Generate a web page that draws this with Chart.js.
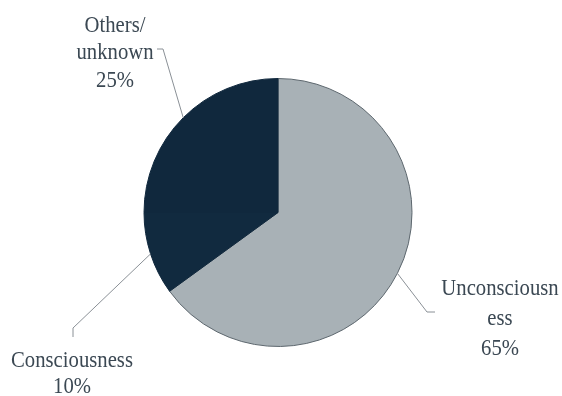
<!DOCTYPE html>
<html>
<head>
<meta charset="utf-8">
<script src="https://cdn.jsdelivr.net/npm/chart.js@4.4.1/dist/chart.umd.min.js"></script>
<style>
  html, body { margin: 0; padding: 0; background: #ffffff; }
  #wrap { width: 562px; height: 396px; position: relative; }
</style>
</head>
<body>
<div id="wrap"><canvas id="pie" width="562" height="396"></canvas></div>
<script>
// Share of cases by state of consciousness
const categories = ['Unconsciousness', 'Consciousness', 'Others/ unknown'];
const shares = [65, 10, 25];
// Wrapped label text shown beside each slice (percent appended from shares)
const labelText = [['Unconsciousn', 'ess'], ['Consciousness'], ['Others/', 'unknown']];

const sliceColors = ['#a8b1b6', '#112a3f', '#10283d'];

// Where each callout sits: text centre x, first baseline, line step, leader elbow and end
const callouts = [
  { x: 500, y: 295,  lh: 30,   elbow: [427, 312], end: [435, 312] },
  { x: 72,  y: 367,  lh: 26,   elbow: [73, 328],  end: [73, 337] },
  { x: 115, y: 31.5, lh: 27.5, elbow: [163, 49],  end: [157, 49] }
];

const calloutPlugin = {
  id: 'callouts',
  afterDatasetsDraw(chart) {
    const ctx = chart.ctx;
    const arcs = chart.getDatasetMeta(0).data;
    ctx.save();
    arcs.forEach((arc, i) => {
      const c = callouts[i];
      const p = arc.getProps(['x', 'y', 'startAngle', 'endAngle', 'outerRadius'], true);
      const mid = (p.startAngle + p.endAngle) / 2;
      const ex = p.x + Math.cos(mid) * p.outerRadius;
      const ey = p.y + Math.sin(mid) * p.outerRadius;
      ctx.strokeStyle = '#8a9096';
      ctx.lineWidth = 1;
      ctx.beginPath();
      ctx.moveTo(ex, ey);
      ctx.lineTo(c.elbow[0], c.elbow[1]);
      ctx.lineTo(c.end[0], c.end[1]);
      ctx.stroke();

      // narrow serif face: tall glyphs squeezed horizontally
      const lines = labelText[i].concat([shares[i] + '%']);
      const sx = 0.92;
      ctx.save();
      ctx.fillStyle = '#3b4853';
      ctx.font = '22.5px "Liberation Serif", "Times New Roman", serif';
      ctx.textAlign = 'center';
      ctx.textBaseline = 'alphabetic';
      ctx.translate(c.x, 0);
      ctx.scale(sx, 1);
      lines.forEach((t, k) => ctx.fillText(t, 0, c.y + k * c.lh));
      ctx.restore();
    });
    ctx.restore();
  }
};

new Chart(document.getElementById('pie'), {
  type: 'pie',
  data: {
    labels: categories,
    datasets: [{
      data: shares,
      backgroundColor: sliceColors,
      borderColor: ['#5d676e', '#10283d', '#10283d'],
      borderWidth: 1
    }]
  },
  options: {
    responsive: false,
    animation: false,
    layout: { padding: { top: 78, bottom: 49, left: 0, right: 6 } },
    plugins: {
      legend: { display: false },
      tooltip: { enabled: false }
    }
  },
  plugins: [calloutPlugin]
});
</script>
</body>
</html>
